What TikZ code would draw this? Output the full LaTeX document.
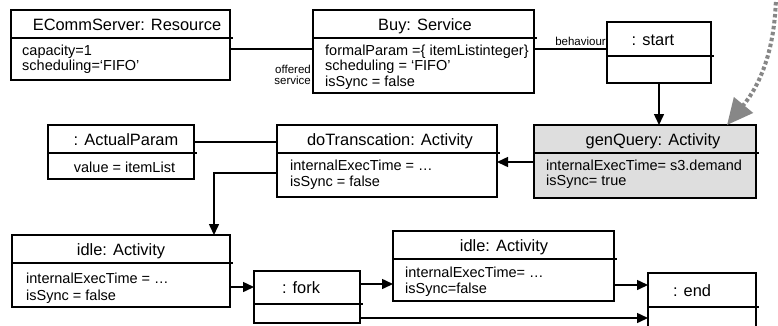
\documentclass[tikz,border=0pt]{standalone}
\usepackage{fontspec}
\setmainfont{Liberation Sans}
\usetikzlibrary{arrows.meta}

\tikzset{
    objbox/.style={draw, line width=1.6pt, inner sep=0pt, outer sep=0pt, anchor=north west},
    headtext/.style={font=\fontsize{16.4}{18}\selectfont, anchor=base, inner sep=0pt},
    attrtext/.style={font=\fontsize{14.5}{16}\selectfont, anchor=base west, inner sep=0pt},
    roletext/.style={font=\fontsize{11.5}{12}\selectfont, anchor=base east, inner sep=0pt},
    link/.style={line width=1.5pt},
    flow/.style={link, -{Triangle[length=11pt,width=10pt]}},
    query/.style={black!47, line width=4pt, dash pattern=on 3.5pt off 2.5pt,
        -{Triangle[length=26pt,width=24pt]}}
}

% object box: [fill]{name}{x1}{y1}{x2}{y2}{separator y}{header x}{header}
\newcommand{\objbox}[9][white]{%
    \node[objbox, fill=#1, minimum width={#5-#3}, minimum height={#6-#4}] (#2) at (#3,#4) {};
    \draw[link] (#2.west |- 0,#7) -- ([xshift=3pt]#2.east |- 0,#7);
    \node[headtext] (#2-head) at (#8,{(#4+#7)/2+6}) {#9};
}
% attribute lines: {name}{x}{first baseline}{step}{lines}
\newcommand{\attrlines}[5]{%
    \foreach \attr [count=\i] in {#5}
        \node[attrtext] (#1-attr\i) at (#2,{#3+(\i-1)*#4}) {\attr};
}

\begin{document}
\begin{tikzpicture}[x=1pt, y=-1pt]
    \useasboundingbox (0,0) rectangle (778,325);
    \clip (0,0) rectangle (778,325);
    % top row
    \objbox{srv}{11}{10}{230}{80}{38}{127}{ECommServer: Resource}
    \attrlines{srv}{22}{55}{15}{capacity=1, scheduling=‘FIFO’}
    \objbox{buy}{313}{10}{534}{93}{38}{425}{Buy: Service}
    \attrlines{buy}{325}{55}{15.5}{formalParam =\{ itemListinteger\}, scheduling = ‘FIFO’, isSync = false}
    \objbox{start}{607}{22}{711}{83}{56}{653}{: start}
    % middle row
    \objbox{param}{48}{125}{194}{179}{153}{126}{: ActualParam}
    \node[attrtext, anchor=base] (param-attr1) at (124.5,172) {value = itemList};
    \objbox{dotrans}{277}{125}{497}{197}{153}{390}{doTranscation: Activity}
    \attrlines{dotrans}{290}{170}{16.5}{internalExecTime = …, isSync = false}
    \objbox[black!13]{genq}{534}{125}{756}{198}{153}{653}{genQuery: Activity}
    \attrlines{genq}{546}{170}{15}{internalExecTime= s3.demand, isSync= true}
    % bottom row
    \objbox{idle1}{12}{235}{230}{307}{263}{121}{idle: Activity}
    \attrlines{idle1}{26}{283}{17}{internalExecTime = …, isSync = false}
    \objbox{fork}{254}{271}{360}{323}{304}{301}{: fork}
    \objbox{idle2}{393}{231}{614}{301}{259}{504}{idle: Activity}
    \attrlines{idle2}{405}{277}{16}{internalExecTime= …, isSync=false}
    \objbox{endpt}{648}{273}{756}{332}{307}{692}{: end}

    % links
    \draw[link] (srv.east |- 0,49) -- (buy.west |- 0,49);
    \node[roletext] (offered) at (311,73) {offered};
    \node[roletext] (service) at (311,84) {service};
    \draw[link] (buy.east |- 0,49) -- (start.west |- 0,49);
    \node[roletext] (behaviour) at (606,45) {behaviour};
    \draw[link] (param.east |- 0,142) -- (dotrans.west |- 0,142);

    % flow
    \draw[flow] (start.south) -- (start.south |- genq.north);
    \draw[flow] (genq.west |- 0,162) -- (dotrans.east |- 0,162);
    \draw[flow] (dotrans.west |- 0,173) -| (idle1.north -| 214,0);
    \draw[flow] (idle1.east |- 0,287) -- (fork.west |- 0,287);
    \draw[flow] (fork.east |- 0,284) -- (idle2.west |- 0,284);
    \draw[flow] (idle2.east |- 0,285) -- (endpt.west |- 0,285);
    \draw[flow] (fork.east |- 0,318) -- (endpt.west |- 0,318);

    \coordinate (qsrc) at (776,-4);
    \draw[query] (qsrc) .. controls (775,50) and (760,85) .. ([xshift=-29pt]genq.north east);
\end{tikzpicture}
\end{document}
